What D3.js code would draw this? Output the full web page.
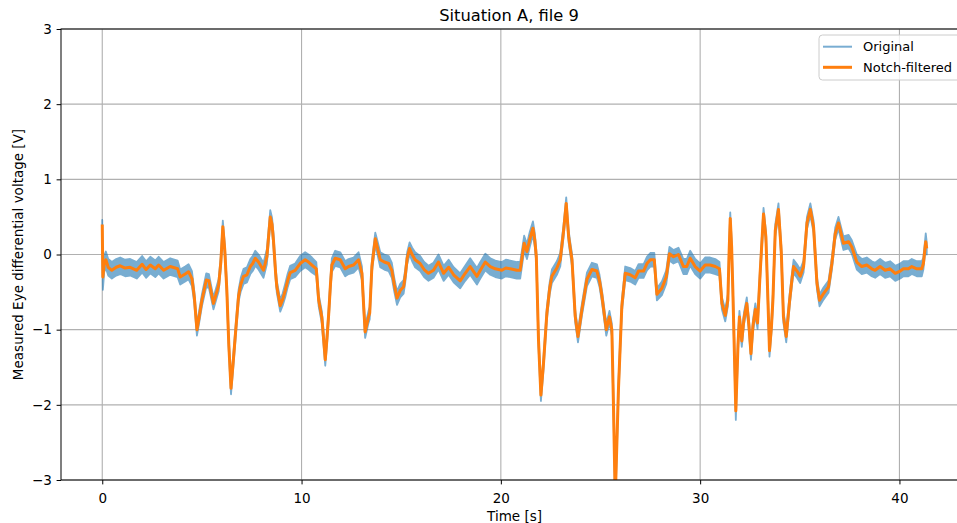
<!DOCTYPE html>
<html>
<head>
<meta charset="utf-8">
<script src="https://cdn.jsdelivr.net/npm/d3@7"></script>
<style>
  body { margin: 0; background: #fff; }
  svg text { font-family: "DejaVu Sans", sans-serif; fill: #000; }
</style>
</head>
<body>
<svg id="chart" width="957" height="523"></svg>
<script>
// Time base of the recording [s]
const timeS = [
  0.00, 0.03, 0.10, 0.18, 0.30, 0.48, 0.70, 0.90, 1.15, 1.40,
  1.73, 2.00, 2.20, 2.41, 2.66, 2.83, 3.08, 3.41, 3.78, 3.91,
  4.16, 4.33, 4.50, 4.62, 4.75, 4.85, 5.00, 5.22, 5.35, 5.58,
  5.84, 5.95, 6.05, 6.15, 6.25, 6.35, 6.46, 6.58, 6.70, 6.84,
  6.95, 7.09, 7.26, 7.43, 7.55, 7.68, 7.84, 8.09, 8.26, 8.35,
  8.43, 8.52, 8.59, 8.70, 8.76, 8.93, 9.05, 9.18, 9.30, 9.43,
  9.68, 9.93, 10.18, 10.35, 10.52, 10.74, 10.86, 11.02, 11.19, 11.28,
  11.36, 11.45, 11.52, 11.69, 11.94, 12.19, 12.36, 12.61, 12.86, 13.03,
  13.12, 13.19, 13.36, 13.42, 13.53, 13.70, 13.80, 13.95, 14.15, 14.37,
  14.53, 14.65, 14.79, 14.95, 15.12, 15.20, 15.30, 15.42, 15.55, 15.70,
  15.95, 16.15, 16.37, 16.62, 16.87, 17.13, 17.38, 17.63, 17.96, 18.21,
  18.46, 18.80, 18.97, 19.22, 19.47, 19.72, 20.05, 20.25, 20.47, 20.80,
  20.97, 21.17, 21.31, 21.45, 21.61, 21.70, 21.78, 21.89, 22.01, 22.14,
  22.31, 22.45, 22.56, 22.81, 22.98, 23.15, 23.28, 23.40, 23.50, 23.57,
  23.73, 23.87, 24.07, 24.32, 24.57, 24.82, 24.95, 25.07, 25.29, 25.45,
  25.57, 25.65, 25.74, 25.90, 26.07, 26.24, 26.49, 26.74, 26.91, 27.16,
  27.33, 27.50, 27.70, 27.83, 28.08, 28.30, 28.46, 28.66, 28.91, 29.16,
  29.33, 29.50, 29.75, 30.00, 30.25, 30.50, 30.76, 30.97, 31.09, 31.26,
  31.39, 31.45, 31.51, 31.58, 31.64, 31.79, 31.90, 31.97, 32.09, 32.20,
  32.34, 32.45, 32.55, 32.65, 32.77, 32.88, 33.01, 33.18, 33.30, 33.40,
  33.48, 33.58, 33.65, 33.77, 33.93, 34.07, 34.18, 34.32, 34.49, 34.62,
  34.69, 34.86, 35.02, 35.19, 35.36, 35.53, 35.69, 35.86, 35.99, 36.19,
  36.44, 36.61, 36.78, 36.94, 37.19, 37.45, 37.61, 37.86, 38.11, 38.36,
  38.61, 38.78, 39.03, 39.28, 39.53, 39.79, 40.04, 40.20, 40.45, 40.62,
  40.87, 41.12, 41.20, 41.32, 41.37
];

// Notch-filtered eye differential voltage [V]
const notchV = [
  0.40, -0.30, -0.12, -0.07, -0.17, -0.21, -0.17, -0.15, -0.18, -0.17,
  -0.21, -0.13, -0.20, -0.14, -0.19, -0.14, -0.21, -0.16, -0.19, -0.30,
  -0.26, -0.23, -0.32, -0.57, -1.00, -0.85, -0.61, -0.34, -0.35, -0.65,
  -0.41, -0.10, 0.37, 0.05, -0.47, -1.20, -1.78, -1.40, -1.00, -0.55,
  -0.40, -0.29, -0.27, -0.16, -0.12, -0.05, -0.10, -0.21, -0.03, 0.25,
  0.50, 0.40, 0.19, -0.25, -0.43, -0.68, -0.60, -0.48, -0.35, -0.24,
  -0.21, -0.12, -0.07, -0.10, -0.14, -0.19, -0.61, -0.84, -1.40, -1.10,
  -0.80, -0.40, -0.14, -0.05, -0.07, -0.19, -0.16, -0.14, -0.07, -0.25,
  -0.70, -1.03, -0.83, -0.78, -0.16, 0.21, 0.10, -0.07, -0.10, -0.12,
  -0.21, -0.40, -0.58, -0.48, -0.43, -0.29, -0.05, 0.08, 0.00, -0.07,
  -0.12, -0.20, -0.25, -0.21, -0.10, -0.25, -0.17, -0.27, -0.35, -0.25,
  -0.16, -0.29, -0.21, -0.10, -0.16, -0.19, -0.21, -0.18, -0.19, -0.21,
  -0.21, 0.15, 0.04, 0.20, 0.35, 0.20, -0.03, -1.14, -1.87, -1.45,
  -0.78, -0.45, -0.29, -0.18, -0.07, 0.32, 0.68, 0.24, 0.05, -0.07,
  -0.82, -1.09, -0.73, -0.33, -0.20, -0.22, -0.35, -0.55, -1.00, -0.83,
  -1.00, -2.00, -3.25, -1.80, -0.69, -0.25, -0.27, -0.31, -0.22, -0.22,
  -0.12, -0.07, -0.07, -0.53, -0.45, -0.30, 0.01, -0.03, 0.00, -0.16,
  -0.16, -0.05, -0.16, -0.22, -0.14, -0.14, -0.16, -0.19, -0.65, -0.81,
  -0.61, 0.00, 0.48, 0.10, -0.47, -2.08, -1.20, -0.83, -1.15, -0.85,
  -0.65, -0.95, -1.32, -0.95, -0.73, -0.91, -0.25, 0.54, 0.23, -0.60,
  -1.28, -0.95, -0.61, 0.32, 0.60, 0.04, -0.83, -1.09, -0.61, -0.30,
  -0.16, -0.22, -0.29, -0.16, 0.42, 0.60, 0.37, -0.38, -0.61, -0.52,
  -0.43, -0.12, 0.28, 0.42, 0.15, 0.17, 0.10, -0.10, -0.16, -0.14,
  -0.19, -0.21, -0.16, -0.21, -0.19, -0.25, -0.22, -0.19, -0.19, -0.16,
  -0.19, -0.19, -0.12, 0.17, 0.08
];

// Original (unfiltered) signal: centre of the mains-noise band [V]
const originalV = [
  0.40, -0.37, -0.12, -0.07, -0.17, -0.21, -0.17, -0.15, -0.18, -0.17,
  -0.21, -0.13, -0.20, -0.14, -0.19, -0.14, -0.21, -0.16, -0.19, -0.30,
  -0.26, -0.23, -0.32, -0.57, -1.00, -0.85, -0.61, -0.34, -0.35, -0.65,
  -0.41, -0.10, 0.37, 0.05, -0.47, -1.20, -1.78, -1.40, -1.00, -0.55,
  -0.40, -0.29, -0.27, -0.16, -0.12, -0.05, -0.10, -0.21, -0.03, 0.25,
  0.50, 0.40, 0.19, -0.25, -0.43, -0.68, -0.60, -0.48, -0.35, -0.24,
  -0.21, -0.12, -0.07, -0.10, -0.14, -0.19, -0.61, -0.84, -1.40, -1.10,
  -0.80, -0.40, -0.14, -0.05, -0.07, -0.19, -0.16, -0.14, -0.07, -0.25,
  -0.70, -1.03, -0.83, -0.78, -0.16, 0.21, 0.10, -0.07, -0.10, -0.12,
  -0.21, -0.40, -0.58, -0.48, -0.43, -0.29, -0.05, 0.08, 0.00, -0.07,
  -0.12, -0.20, -0.25, -0.21, -0.10, -0.25, -0.17, -0.27, -0.35, -0.25,
  -0.16, -0.29, -0.21, -0.10, -0.16, -0.19, -0.21, -0.18, -0.19, -0.21,
  -0.21, 0.15, 0.04, 0.20, 0.35, 0.20, -0.03, -1.14, -1.87, -1.45,
  -0.78, -0.45, -0.29, -0.18, -0.07, 0.32, 0.68, 0.24, 0.05, -0.07,
  -0.82, -1.09, -0.73, -0.33, -0.20, -0.22, -0.35, -0.55, -1.00, -0.83,
  -1.00, -2.00, -3.25, -1.80, -0.69, -0.25, -0.27, -0.31, -0.22, -0.22,
  -0.12, -0.07, -0.07, -0.53, -0.45, -0.30, 0.01, -0.03, 0.00, -0.16,
  -0.16, -0.05, -0.16, -0.22, -0.14, -0.14, -0.16, -0.19, -0.65, -0.81,
  -0.61, 0.00, 0.48, 0.10, -0.47, -2.10, -1.20, -0.83, -1.15, -0.85,
  -0.65, -0.95, -1.32, -0.95, -0.73, -0.91, -0.25, 0.54, 0.23, -0.60,
  -1.28, -0.95, -0.61, 0.32, 0.60, 0.04, -0.83, -1.09, -0.61, -0.30,
  -0.16, -0.22, -0.29, -0.16, 0.42, 0.60, 0.37, -0.38, -0.61, -0.52,
  -0.43, -0.12, 0.28, 0.42, 0.15, 0.17, 0.10, -0.10, -0.16, -0.14,
  -0.19, -0.21, -0.16, -0.21, -0.19, -0.25, -0.22, -0.19, -0.19, -0.16,
  -0.19, -0.19, -0.12, 0.19, 0.08
];

// Half-width of the mains-noise band on the original signal [V]
const originalSpread = [
  0.06, 0.10, 0.11, 0.11, 0.11, 0.11, 0.11, 0.11, 0.11, 0.11,
  0.11, 0.11, 0.11, 0.11, 0.11, 0.11, 0.11, 0.11, 0.11, 0.10,
  0.10, 0.10, 0.10, 0.08, 0.08, 0.08, 0.08, 0.09, 0.09, 0.08,
  0.08, 0.08, 0.08, 0.08, 0.08, 0.08, 0.08, 0.08, 0.08, 0.08,
  0.09, 0.10, 0.10, 0.10, 0.10, 0.10, 0.10, 0.10, 0.10, 0.09,
  0.09, 0.09, 0.09, 0.08, 0.08, 0.08, 0.08, 0.09, 0.09, 0.09,
  0.09, 0.10, 0.10, 0.10, 0.10, 0.09, 0.08, 0.08, 0.08, 0.08,
  0.08, 0.08, 0.09, 0.10, 0.10, 0.10, 0.10, 0.10, 0.10, 0.09,
  0.08, 0.08, 0.08, 0.08, 0.08, 0.08, 0.09, 0.10, 0.10, 0.10,
  0.10, 0.09, 0.09, 0.09, 0.09, 0.09, 0.08, 0.08, 0.09, 0.10,
  0.10, 0.10, 0.10, 0.10, 0.10, 0.10, 0.10, 0.10, 0.10, 0.10,
  0.11, 0.11, 0.11, 0.11, 0.11, 0.11, 0.11, 0.11, 0.11, 0.11,
  0.11, 0.10, 0.10, 0.10, 0.09, 0.09, 0.08, 0.08, 0.08, 0.08,
  0.08, 0.08, 0.09, 0.09, 0.09, 0.08, 0.08, 0.08, 0.08, 0.08,
  0.08, 0.08, 0.08, 0.09, 0.09, 0.09, 0.08, 0.08, 0.08, 0.08,
  0.08, 0.08, 0.08, 0.08, 0.08, 0.09, 0.09, 0.09, 0.09, 0.09,
  0.09, 0.09, 0.09, 0.08, 0.09, 0.09, 0.09, 0.09, 0.09, 0.10,
  0.10, 0.10, 0.10, 0.10, 0.10, 0.10, 0.10, 0.09, 0.08, 0.08,
  0.08, 0.08, 0.08, 0.08, 0.08, 0.10, 0.08, 0.08, 0.08, 0.08,
  0.08, 0.08, 0.08, 0.08, 0.08, 0.08, 0.08, 0.08, 0.08, 0.08,
  0.08, 0.08, 0.08, 0.08, 0.08, 0.08, 0.08, 0.08, 0.08, 0.08,
  0.09, 0.09, 0.09, 0.08, 0.08, 0.08, 0.08, 0.08, 0.08, 0.08,
  0.08, 0.08, 0.08, 0.08, 0.09, 0.09, 0.09, 0.10, 0.10, 0.10,
  0.10, 0.10, 0.10, 0.10, 0.10, 0.10, 0.10, 0.10, 0.10, 0.10,
  0.10, 0.10, 0.08, 0.09, 0.08
];

const xTicks = [0, 10, 20, 30, 40];
const yTicks = [-3, -2, -1, 0, 1, 2, 3];
const seriesNames = ["Original", "Notch-filtered"];
const seriesColors = ["#1f77b4", "#ff7f0e"];

const svg = d3.select("#chart");
const plot = { left: 61, top: 29, right: 968, bottom: 480 };

const x = d3.scaleLinear().domain([-2.07, 43.44]).range([plot.left, plot.right]);
const y = d3.scaleLinear().domain([-3, 3]).range([plot.bottom, plot.top]);
const idx = d3.range(timeS.length);

svg.append("defs").append("clipPath").attr("id", "plot-clip")
  .append("rect")
  .attr("x", plot.left).attr("y", plot.top)
  .attr("width", plot.right - plot.left).attr("height", plot.bottom - plot.top);

// grid
const grid = svg.append("g").attr("stroke", "#b0b0b0").attr("stroke-width", 1.1);
grid.selectAll(".gx").data(xTicks).join("line")
  .attr("x1", d => x(d)).attr("x2", d => x(d))
  .attr("y1", plot.top).attr("y2", plot.bottom);
grid.selectAll(".gy").data(yTicks).join("line")
  .attr("x1", plot.left).attr("x2", plot.right)
  .attr("y1", d => y(d)).attr("y2", d => y(d));

const traces = svg.append("g").attr("clip-path", "url(#plot-clip)");

// original: noisy band drawn as a translucent trace
const bandArea = d3.area()
  .x(i => x(timeS[i]))
  .y0(i => y(originalV[i] - originalSpread[i]))
  .y1(i => y(originalV[i] + originalSpread[i]));
traces.append("g").attr("opacity", 0.6)
  .append("path")
  .attr("d", bandArea(idx))
  .attr("fill", seriesColors[0])
  .attr("stroke", seriesColors[0])
  .attr("stroke-width", 1.8)
  .attr("stroke-linejoin", "round");

// notch-filtered trace
const filtLine = d3.line().x(i => x(timeS[i])).y(i => y(notchV[i]));
traces.append("path")
  .attr("d", filtLine(idx))
  .attr("fill", "none")
  .attr("stroke", seriesColors[1])
  .attr("stroke-width", 3)
  .attr("stroke-linejoin", "round")
  .attr("stroke-linecap", "butt");

// axes
const fmt = d3.format("d");
const xAxis = svg.append("g").attr("transform", `translate(0,${plot.bottom})`)
  .call(d3.axisBottom(x).tickValues(xTicks).tickFormat(fmt).tickSize(4.4).tickPadding(4.5));
const yAxis = svg.append("g").attr("transform", `translate(${plot.left},0)`)
  .call(d3.axisLeft(y).tickValues(yTicks).tickFormat(fmt).tickSize(4.4).tickPadding(4.8));
[xAxis, yAxis].forEach(a => {
  a.select(".domain").remove();
  a.selectAll(".tick line").attr("stroke", "#000").attr("stroke-width", 1);
  a.selectAll(".tick text").style("font-size", "13.5px").attr("fill", "#000");
});
// x tick labels sit with their baseline at a fixed offset below the axis
xAxis.selectAll(".tick text").attr("y", 23).attr("dy", null);

// spines
svg.append("rect")
  .attr("x", plot.left).attr("y", plot.top)
  .attr("width", plot.right - plot.left).attr("height", plot.bottom - plot.top)
  .attr("fill", "none").attr("stroke", "#000").attr("stroke-width", 1);

// title and axis labels
svg.append("text")
  .attr("x", 509).attr("y", 21.3)
  .attr("text-anchor", "middle").style("font-size", "16.3px")
  .text("Situation A, file 9");
svg.append("text")
  .attr("x", (plot.left + plot.right) / 2).attr("y", 520.5)
  .attr("text-anchor", "middle").style("font-size", "13.5px")
  .text("Time [s]");
svg.append("text")
  .attr("transform", `translate(23,${(plot.top + plot.bottom) / 2}) rotate(-90)`)
  .attr("text-anchor", "middle").style("font-size", "13.5px")
  .text("Measured Eye differential voltage [V]");

// legend
const legend = svg.append("g");
legend.append("rect")
  .attr("x", 819).attr("y", 35).attr("width", 146).attr("height", 45).attr("rx", 3.5)
  .attr("fill", "#fff").attr("fill-opacity", 0.8)
  .attr("stroke", "#cccccc").attr("stroke-width", 1);
const rows = legend.selectAll(".row").data(seriesNames).join("g")
  .attr("transform", (d, i) => `translate(0,${46.7 + i * 20.6})`);
rows.append("line")
  .attr("x1", 823).attr("x2", 852).attr("y1", 0).attr("y2", 0)
  .attr("stroke", (d, i) => seriesColors[i])
  .attr("stroke-opacity", (d, i) => i === 0 ? 0.6 : 1)
  .attr("stroke-width", (d, i) => i === 0 ? 2 : 3);
rows.append("text")
  .attr("x", 863).attr("y", 0).attr("dy", "0.36em")
  .style("font-size", "13px")
  .text(d => d);
</script>
</body>
</html>
